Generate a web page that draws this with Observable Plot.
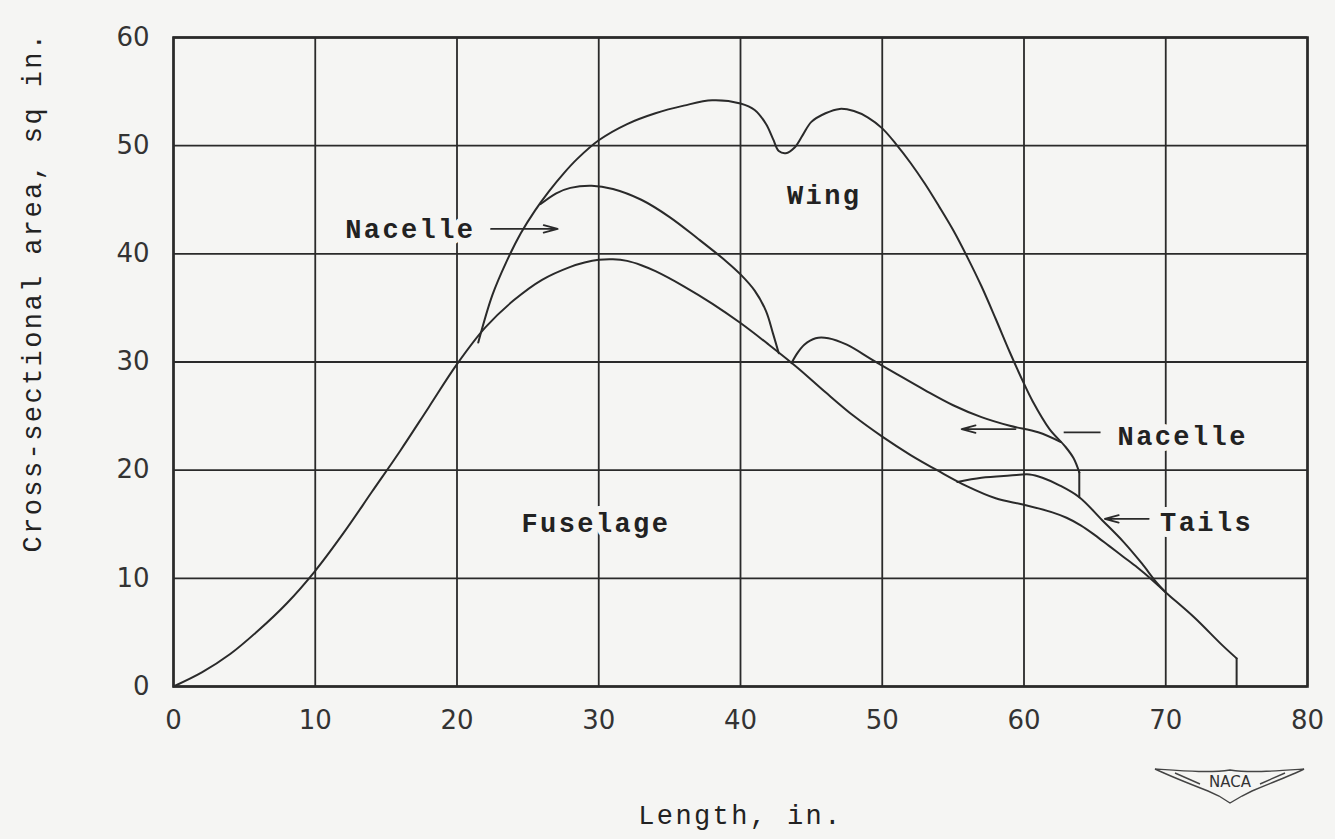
<!DOCTYPE html>
<html>
<head>
<meta charset="utf-8">
<script src="https://cdn.jsdelivr.net/npm/d3@7"></script>
<script src="https://cdn.jsdelivr.net/npm/@observablehq/plot@0.6"></script>
<style>
  html, body { margin: 0; padding: 0; background: #f5f5f3; }
  #chart svg { display: block; }
</style>
</head>
<body>
<div id="chart"></div>
<script>
// ---- Data ----
const xTicks = [0, 10, 20, 30, 40, 50, 60, 70, 80];
const yTicks = [0, 10, 20, 30, 40, 50, 60];

// Fuselage alone (lowest envelope)
const fuselage = [
  [0, 0], [2, 1.3], [4, 3.0], [6, 5.2], [8, 7.7], [10, 10.7], [12, 14.2], [14, 18.0],
  [16, 21.8], [18, 25.8], [20, 29.8], [22, 33.2], [24, 35.7], [26, 37.6], [28, 38.8],
  [29, 39.2], [30, 39.45], [31, 39.5], [32, 39.35], [33, 38.95], [34, 38.4], [36, 37.0],
  [38, 35.4], [40, 33.6], [42, 31.6], [44, 29.5], [46, 27.2], [48, 25.0], [50, 23.1],
  [52, 21.4], [54, 19.9], [56, 18.5], [58, 17.4], [60, 16.8], [62, 16.1], [63, 15.6],
  [64, 14.9], [65, 14.0], [66, 13.0], [67, 12.0], [68, 11.0], [69, 9.9], [70, 8.7],
  [72, 6.4], [74, 3.8], [75, 2.6]
];
const fuselageEnd = [[75, 2.6], [75, 0]];

// Fuselage + tails
const tails = [
  [55.3, 18.9], [57, 19.3], [59, 19.5], [60.4, 19.6], [61.3, 19.3], [62.5, 18.6],
  [63.9, 17.5], [65.5, 15.4], [67, 13.4], [68.3, 11.4], [69.3, 9.7], [70, 8.7]
];

// Fuselage + nacelle (forward part)
const nacelleFwd = [
  [25.9, 44.6], [27, 45.6], [28, 46.1], [29.5, 46.3], [31, 46.0], [33, 45.0],
  [35, 43.4], [37, 41.4], [39, 39.3], [40, 38.1], [41, 36.6], [41.8, 34.7],
  [42.3, 32.6], [42.7, 30.8]
];
// Fuselage + nacelle (aft part)
const nacelleAft = [
  [43.6, 29.9], [44.0, 30.8], [44.5, 31.6], [45.3, 32.2], [46.2, 32.2], [47.5, 31.6],
  [49.3, 30.2], [51, 28.9], [53, 27.4], [55, 26.0], [57, 24.9], [59, 24.1],
  [61, 23.5], [62.6, 22.6]
];

// Total with wing
const wing = [
  [21.5, 31.8], [22.5, 36.2], [23.5, 39.3], [24.5, 41.9], [25.5, 44.0], [26.5, 45.8],
  [27.5, 47.4], [28.5, 48.8], [30, 50.5], [32, 52.0], [34, 53.0], [36, 53.7],
  [38, 54.2], [40, 53.9], [41, 53.3], [41.8, 52.0], [42.3, 50.6], [42.7, 49.5],
  [43.2, 49.3], [43.8, 49.8], [44.4, 51.0], [45, 52.2], [46, 53.0], [47, 53.4],
  [48, 53.2], [49, 52.6], [50, 51.6], [51, 50.1], [52, 48.4], [53, 46.5], [54, 44.4],
  [55, 42.2], [56, 39.7], [57, 37.0], [58, 34.0], [59, 30.9], [60, 28.0], [60.6, 26.4],
  [61.8, 23.8], [62.9, 22.2], [63.5, 21.1], [63.9, 19.8]
];
const wingEnd = [[63.9, 19.8], [63.9, 17.5]];

// Annotation labels
const labels = [
  {text: "Nacelle", x: 21.3, y: 42.3, anchor: "end"},
  {text: "Wing", x: 45.9, y: 45.4, anchor: "middle"},
  {text: "Fuselage", x: 29.8, y: 15.1, anchor: "middle"},
  {text: "Nacelle", x: 66.6, y: 23.1, anchor: "start"},
  {text: "Tails", x: 69.6, y: 15.2, anchor: "start"}
];
// Leader arrows (x1,y1 -> x2,y2; head at x2)
const arrows = [
  {x1: 22.4, y1: 42.3, x2: 27.1, y2: 42.3},
  {x1: 59.4, y1: 23.8, x2: 55.6, y2: 23.8},
  {x1: 68.8, y1: 15.5, x2: 65.7, y2: 15.5}
];
const dashes = [
  {x1: 62.8, y1: 23.5, x2: 65.4, y2: 23.5}
];

// ---- Chart ----
const ink = "#2a2a2a";
const bg = "#f5f5f3";
const mono = "'Liberation Mono', 'DejaVu Sans Mono', monospace";
const sans = "'DejaVu Sans', sans-serif";
const pts = a => a.map(([x, y]) => ({x, y}));
const lineOpts = {x: "x", y: "y", stroke: ink, strokeWidth: 2, curve: "catmull-rom"};
const labelOpts = {
  x: "x", y: "y", text: "text",
  fontFamily: mono, fontSize: 27, fontWeight: "bold", fill: "#222",
  stroke: bg, strokeWidth: 12
};

const chart = Plot.plot({
  width: 1335,
  height: 839,
  marginLeft: 173,
  marginRight: 28,
  marginTop: 37,
  marginBottom: 153,
  style: {background: bg, color: ink, fontSize: "26px", fontFamily: sans},
  x: {domain: [0, 80]},
  y: {domain: [0, 60]},
  marks: [
    Plot.gridX(xTicks, {stroke: ink, strokeOpacity: 1, strokeWidth: 1.8}),
    Plot.gridY(yTicks, {stroke: ink, strokeOpacity: 1, strokeWidth: 1.8}),
    Plot.frame({stroke: ink, strokeWidth: 2.6}),
    Plot.axisX(xTicks, {tickSize: 0, tickPadding: 24, fontSize: 26, fontFamily: sans, fill: "#333", label: null}),
    Plot.axisY(yTicks, {tickSize: 0, tickPadding: 24, fontSize: 26, fontFamily: sans, fill: "#333", label: null}),
    Plot.line(pts(fuselage), lineOpts),
    Plot.line(pts(fuselageEnd), {...lineOpts, curve: "linear"}),
    Plot.line(pts(tails), lineOpts),
    Plot.line(pts(nacelleFwd), lineOpts),
    Plot.line(pts(nacelleAft), lineOpts),
    Plot.line(pts(wing), lineOpts),
    Plot.line(pts(wingEnd), {...lineOpts, curve: "linear"}),
    Plot.text(labels.filter(d => d.anchor === "end"), {...labelOpts, textAnchor: "end"}),
    Plot.text(labels.filter(d => d.anchor === "middle"), {...labelOpts, textAnchor: "middle"}),
    Plot.text(labels.filter(d => d.anchor === "start"), {...labelOpts, textAnchor: "start"}),
    Plot.arrow(arrows, {x1: "x1", y1: "y1", x2: "x2", y2: "y2", stroke: ink, strokeWidth: 1.8, headLength: 12, headAngle: 30}),
    Plot.link(dashes, {x1: "x1", y1: "y1", x2: "x2", y2: "y2", stroke: ink, strokeWidth: 1.8}),
    Plot.text(["Length, in."], {
      frameAnchor: "bottom", dy: 129, fontFamily: mono, fontSize: 27, fill: "#222",
      textAnchor: "middle", lineAnchor: "middle"
    }),
    Plot.text(["Cross-sectional area, sq in."], {
      frameAnchor: "left", dx: -141, dy: -70, rotate: -90, fontFamily: mono, fontSize: 27,
      fill: "#222", textAnchor: "middle", lineAnchor: "middle"
    })
  ]
});

document.getElementById("chart").appendChild(chart);

// typewriter letter spacing on annotation / title texts
d3.select(chart).selectAll("g[aria-label='text'] text").attr("letter-spacing", "2.4px");

// NACA wings emblem (decoration)
const svg = d3.select(chart);
const g = svg.append("g").attr("fill", "none").attr("stroke", "#444").attr("stroke-width", 1.4);
g.append("path").attr("d",
  "M1155,769 C1185,771 1210,773 1230,770 C1250,773 1275,771 1304,769 " +
  "C1290,776 1268,784 1252,791 L1242,796 L1230,803 L1219,796 L1208,791 C1190,784 1170,776 1155,769 Z");
g.append("path").attr("d", "M1175,773 L1200,784 M1285,773 L1260,784");
svg.append("text")
  .attr("x", 1230).attr("y", 782).attr("text-anchor", "middle").attr("dominant-baseline", "middle")
  .attr("font-family", "'DejaVu Sans', sans-serif").attr("font-size", 15).attr("fill", "#333")
  .text("NACA");
</script>
</body>
</html>
